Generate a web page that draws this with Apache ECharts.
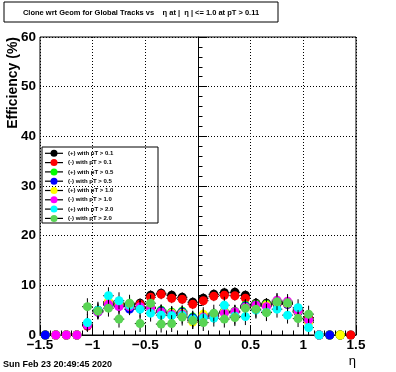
<!DOCTYPE html>
<html>
<head>
<meta charset="utf-8">
<script src="https://cdn.jsdelivr.net/npm/echarts@6/dist/echarts.min.js"></script>
<style>html,body{margin:0;padding:0;background:#fff;}#c{width:396px;height:372px;}</style>
</head>
<body>
<div id="c"></div>
<script>
// bin centres in eta
const eta = [-1.45,-1.35,-1.25,-1.15,-1.05,-0.95,-0.85,-0.75,-0.65,-0.55,-0.45,-0.35,-0.25,-0.15,-0.05,0.05,0.15,0.25,0.35,0.45,0.55,0.65,0.75,0.85,0.95,1.05,1.15,1.25,1.35,1.45];
const binHalfWidth = 0.05;
const seriesNames = ['(+) with pT > 0.1','(-) with pT > 0.1','(+) with pT > 0.5','(-) with pT > 0.5','(+) with pT > 1.0','(-) with pT > 1.0','(+) with pT > 2.0','(-) with pT > 2.0'];
const posPt01 = [0,0,0,0,2.0,5.0,6.6,6.4,6.2,6.4,8.0,8.4,8.0,7.6,6.6,7.4,8.2,8.5,8.6,8.0,6.4,6.4,6.4,6.4,5.2,3.5,0,0,0,0];
const negPt01 = [0,0,0,0,1.8,4.8,6.4,6.0,6.0,6.2,7.6,8.2,7.4,7.2,6.2,6.9,7.8,8.0,7.9,7.4,6.2,6.2,6.2,6.2,4.7,3.4,0,0,0,0];
const posPt05 = [0,0,0,0,2.2,4.8,6.2,6.0,6.2,5.6,5.6,5.0,4.6,4.8,3.6,4.0,4.2,4.8,4.8,6.0,6.2,6.2,6.6,6.4,4.8,3.0,0,0,0,null];
const negPt05 = [0,0,0,0,2.0,4.6,6.0,5.8,5.2,5.4,5.4,4.8,4.4,4.6,3.4,3.8,4.0,4.6,4.6,5.8,6.0,6.0,6.4,6.2,4.6,2.8,0,0,null,null];
const posPt10 = [null,0,0,0,2.2,4.8,6.7,6.2,5.8,5.6,5.4,4.6,4.4,4.4,2.6,4.2,3.8,4.6,4.6,5.6,5.8,6.0,6.6,6.4,4.8,2.5,0,null,0,null];
const negPt10 = [null,0,0,0,2.0,4.6,6.2,5.7,5.7,5.7,5.4,4.6,4.2,4.2,3.0,3.6,3.8,4.4,4.7,5.6,6.0,5.7,7.0,6.8,4.9,3.0,0,null,null,null];
const posPt20 = [null,null,null,null,2.5,5.0,7.9,6.9,6.0,5.2,4.4,4.0,3.9,4.0,3.2,3.4,3.4,6.0,3.8,3.7,5.0,4.6,5.2,4.0,5.5,1.5,0,null,null,null];
const negPt20 = [null,null,null,null,5.7,4.8,5.4,3.2,6.4,2.3,6.4,2.2,2.3,3.6,2.9,2.5,4.4,3.2,3.5,5.4,5.2,4.5,6.7,6.5,3.3,4.2,null,null,null,null];
// estimated vertical error (half-length) per series
const errY = [1.0,1.0,1.2,1.2,1.4,1.4,1.7,1.7];
const colors = ['#000000','#ff0000','#00ff00','#0000ff','#ffff00','#ff00ff','#00ffff','#59d454'];
const allValues = [posPt01,negPt01,posPt05,negPt05,posPt10,negPt10,posPt20,negPt20];
const xTicks = [-1.5,1.5,0.5];
const yTicks = [0,60,10];

const FONT = '"Liberation Sans", Arial, sans-serif';

const chart = echarts.init(document.getElementById('c'), null, {renderer:'canvas'});

function makeSeries(k){
  const vals = allValues[k];
  const data = [];
  eta.forEach((e,i)=>{ if(vals[i]!==null) data.push([e, vals[i]]); });
  const col = colors[k];
  const ey = errY[k];
  return {
    type:'custom', name: seriesNames[k],
    itemStyle:{color: col},
    data: data,
    encode:{x:0,y:1},
    renderItem(params, api){
      const x = api.value(0), y = api.value(1);
      const c = api.coord([x,y]);
      const children = [];
      if (y > 0) {
        const l = api.coord([x-binHalfWidth, y]);
        const r = api.coord([x+binHalfWidth, y]);
        const t = api.coord([x, y+ey]);
        const b = api.coord([x, Math.max(0, y-ey)]);
        children.push({type:'line', shape:{x1:l[0],y1:c[1],x2:r[0],y2:c[1]}, style:{stroke:'#000',lineWidth:1}});
        children.push({type:'line', shape:{x1:c[0],y1:t[1],x2:c[0],y2:b[1]}, style:{stroke:'#000',lineWidth:1}});
      }
      children.push({type:'circle', shape:{cx:c[0],cy:c[1],r:4.5}, style:{fill:col}});
      return {type:'group', children};
    }
  };
}

const series = [];
for (let k=0;k<8;k++) series.push(makeSeries(k));

const legendCommon = {
  orient:'vertical', top:149.8, padding:0,
  itemHeight:7, itemGap:2.3,
  selectedMode:false,
  data: seriesNames,
};

const option = {
  animation:false,
  backgroundColor:'#ffffff',
  grid:{left:40, right:40, top:37, bottom:37, show:true, borderColor:'#000', borderWidth:1, backgroundColor:'transparent'},
  xAxis:{
    type:'value', min:xTicks[0], max:xTicks[1], interval:xTicks[2],
    axisLine:{show:true, lineStyle:{color:'#000', width:1}},
    axisTick:{show:true, inside:true, length:9, lineStyle:{color:'#000'}},
    minorTick:{show:true, splitNumber:5, length:4.5, lineStyle:{color:'#000'}},
    splitLine:{show:true, lineStyle:{color:'#000', width:1, type:[1,2]}},
    axisLabel:{color:'#000', fontFamily:FONT, fontWeight:'bold', fontSize:13.5, margin:3,
      formatter:v=>String(v).replace('-','\u2212')}
  },
  yAxis:{
    type:'value', min:yTicks[0], max:yTicks[1], interval:yTicks[2],
    axisLine:{show:true, lineStyle:{color:'#000', width:1}},
    axisTick:{show:true, inside:true, length:9, lineStyle:{color:'#000'}},
    minorTick:{show:true, splitNumber:5, length:4.5, lineStyle:{color:'#000'}},
    splitLine:{show:true, lineStyle:{color:'#000', width:1, type:[1,2]}},
    axisLabel:{color:'#000', fontFamily:FONT, fontWeight:'bold', fontSize:13.5, margin:4}
  },
  legend:[
    Object.assign({}, legendCommon, {
      left:45, itemWidth:18,
      icon:'path://M0,0h18v1.2h-18z',
      itemStyle:{color:'#000'},
      textStyle:{fontFamily:FONT, fontWeight:'bold', fontSize:6, color:'#000', lineHeight:7}
    }),
    Object.assign({}, legendCommon, {
      left:50.5, itemWidth:7,
      icon:'circle',
      textStyle:{fontFamily:FONT, fontWeight:'bold', fontSize:6, color:'rgba(0,0,0,0)', lineHeight:7}
    })
  ],
  graphic:[
    {type:'rect', z:-1, shape:{x:42, y:147, width:116, height:76}, style:{fill:'#fff', stroke:'#000', lineWidth:1}},
    {type:'rect', shape:{x:4, y:2, width:274, height:20}, style:{fill:'#fff', stroke:'#000', lineWidth:1}},
    {type:'text', x:141, y:12.5, style:{text:'Clone wrt Geom for Global Tracks vs    \u03b7 at |  \u03b7 | <= 1.0 at pT > 0.11', fontFamily:FONT, fontWeight:'bold', fontSize:7.5, fill:'#000', textAlign:'center', textVerticalAlign:'middle'}},
    {type:'text', x:13, y:37, rotation:Math.PI/2, style:{text:'Efficiency (%)', fontFamily:FONT, fontWeight:'bold', fontSize:14, fill:'#000', textAlign:'right', textVerticalAlign:'middle'}},
    {type:'text', x:356, y:361, style:{text:'\u03b7', fontFamily:FONT, fontSize:13, fill:'#000', textAlign:'right', textVerticalAlign:'middle'}},
    {type:'text', x:3, y:364.5, style:{text:'Sun Feb 23 20:49:45 2020', fontFamily:FONT, fontWeight:'bold', fontSize:9, fill:'#000', textAlign:'left', textVerticalAlign:'middle'}}
  ],
  series: series
};
chart.setOption(option);
</script>
</body>
</html>
